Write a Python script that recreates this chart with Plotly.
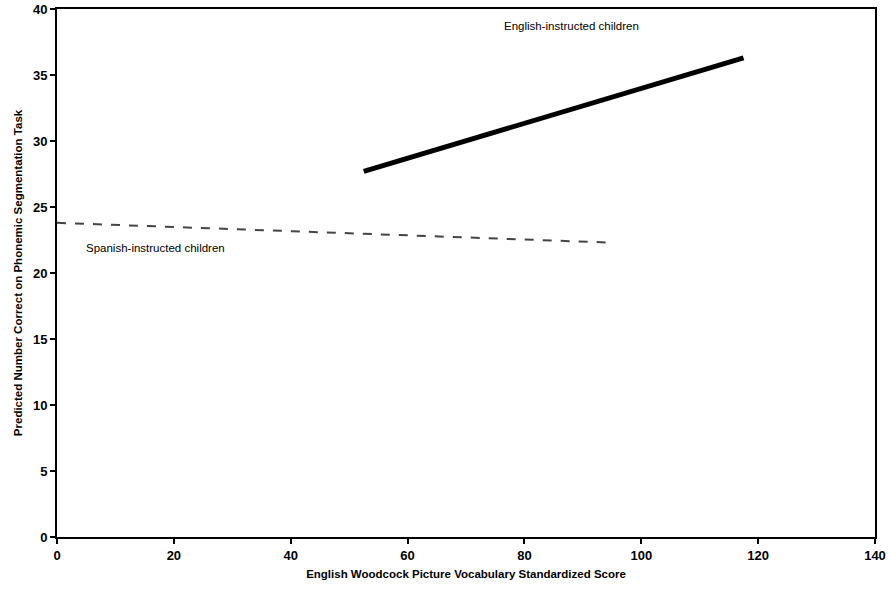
import plotly.graph_objects as go

# Data
spanish_x = [0, 95]
spanish_y = [23.8, 22.3]
english_x = [52.5, 117.5]
english_y = [27.7, 36.3]

x_ticks = [0, 20, 40, 60, 80, 100, 120, 140]
y_ticks = [0, 5, 10, 15, 20, 25, 30, 35, 40]

x_title = "English Woodcock Picture Vocabulary Standardized Score"
y_title = "Predicted Number Correct on Phonemic Segmentation Task"
label_english = "English-instructed children"
label_spanish = "Spanish-instructed children"

font_family = "Liberation Sans, Arial, sans-serif"

fig = go.Figure()
fig.add_trace(go.Scatter(
    x=spanish_x, y=spanish_y, mode="lines",
    line=dict(color="#444444", width=2, dash="dash"),
    showlegend=False, hoverinfo="skip"))
fig.add_trace(go.Scatter(
    x=english_x, y=english_y, mode="lines",
    line=dict(color="#000000", width=5),
    showlegend=False, hoverinfo="skip"))

fig.add_annotation(x=88, y=38.7, text=label_english, showarrow=False,
                   font=dict(family=font_family, size=11.5, color="#000"))
fig.add_annotation(x=16.8, y=21.9, text=label_spanish, showarrow=False,
                   font=dict(family=font_family, size=11.5, color="#000"))

fig.update_layout(
    width=888, height=591,
    margin=dict(l=57, r=13, t=9, b=54, autoexpand=False),
    paper_bgcolor="white", plot_bgcolor="white",
    font=dict(family=font_family, color="#000"),
)
fig.update_xaxes(
    range=[0, 140], tickvals=x_ticks, ticktext=["<b>%d</b>" % v for v in x_ticks],
    showgrid=False, zeroline=False, automargin=False,
    showline=True, linecolor="black", linewidth=2, mirror=True,
    ticks="outside", ticklen=5, tickcolor="black", tickwidth=1.5,
    tickfont=dict(size=13, family=font_family, color="#000"),
    title=dict(text="<b>%s</b>" % x_title, font=dict(size=11.5, family=font_family, color="#000"), standoff=8),
)
fig.update_yaxes(
    range=[0, 40], tickvals=y_ticks, ticktext=["<b>%d</b>" % v for v in y_ticks],
    showgrid=False, zeroline=False, automargin=False,
    showline=True, linecolor="black", linewidth=2, mirror=True,
    ticks="outside", ticklen=5, tickcolor="black", tickwidth=1.5,
    tickfont=dict(size=13, family=font_family, color="#000"),
    title=dict(text="<b>%s</b>" % y_title, font=dict(size=11.5, family=font_family, color="#000"), standoff=8),
)

fig.write_html("out.html")
